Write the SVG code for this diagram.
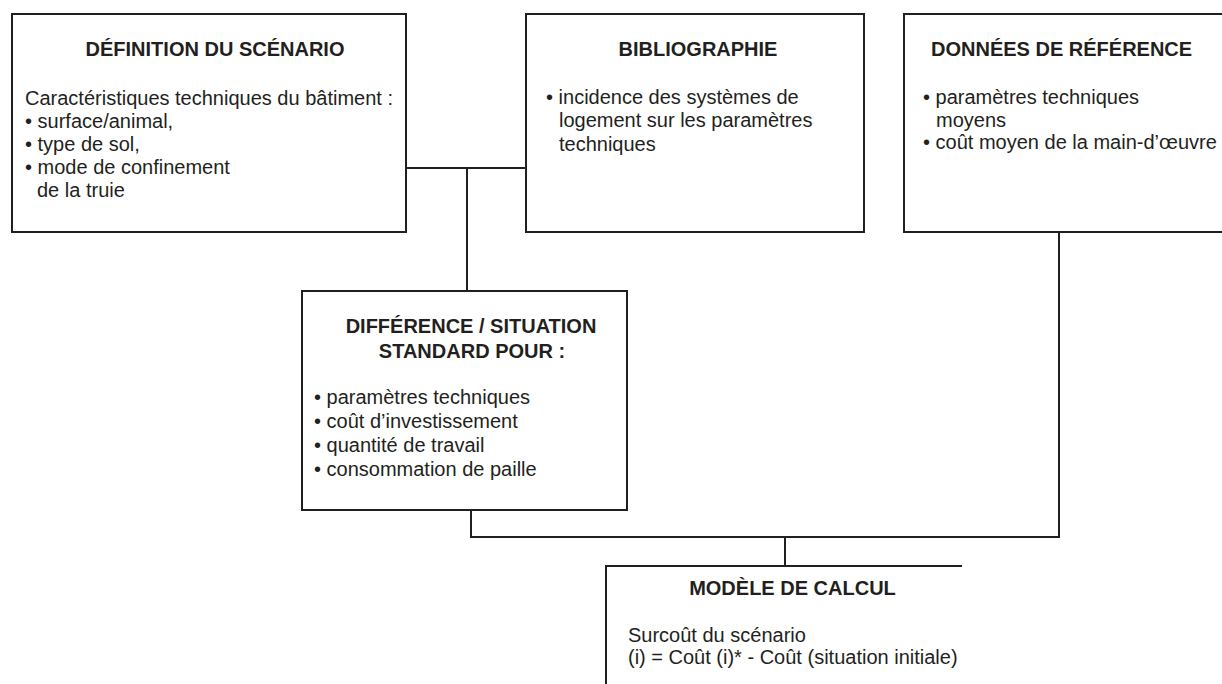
<svg xmlns="http://www.w3.org/2000/svg" width="1222" height="684" viewBox="0 0 1222 684">
<style>
.box{fill:#fff;stroke:#231f20;stroke-width:2}
.ln{fill:none;stroke:#231f20;stroke-width:2}
.t{font-family:"Liberation Sans",Arial,Helvetica,sans-serif;font-size:20px;fill:#231f20}
.b{font-weight:bold}
.m{text-anchor:middle}
</style>
<rect width="1222" height="684" fill="#fff"/>
<g id="connectors">
<path class="ln" d="M406,168 H526"/>
<path class="ln" d="M467,168 V291"/>
<path class="ln" d="M471,510 V537 H1059 V232"/>
<path class="ln" d="M785,537 V566"/>
</g>
<g id="scenario">
<rect class="box" x="12" y="14" width="394" height="218"/>
<text class="t b m" x="215" y="56">DÉFINITION DU SCÉNARIO</text>
<text class="t" x="25" y="105">Caractéristiques techniques du bâtiment :</text>
<text class="t" x="25" y="128">• surface/animal,</text>
<text class="t" x="25" y="151">• type de sol,</text>
<text class="t" x="25" y="174">• mode de confinement</text>
<text class="t" x="37" y="197">de la truie</text>
</g>
<g id="bibliographie">
<rect class="box" x="526" y="14" width="338" height="218"/>
<text class="t b m" x="698" y="56">BIBLIOGRAPHIE</text>
<text class="t" x="546" y="104">• incidence des systèmes de</text>
<text class="t" x="559" y="127">logement sur les paramètres</text>
<text class="t" x="559" y="151">techniques</text>
</g>
<g id="reference">
<rect class="box" x="904" y="14" width="330" height="218"/>
<text class="t b" x="931" y="56">DONNÉES DE RÉFÉRENCE</text>
<text class="t" x="923" y="104">• paramètres techniques</text>
<text class="t" x="936" y="127">moyens</text>
<text class="t" x="923" y="149">• coût moyen de la main-d’œuvre</text>
</g>
<g id="difference">
<rect class="box" x="302" y="291" width="325" height="219"/>
<text class="t b m" x="471" y="333">DIFFÉRENCE / SITUATION</text>
<text class="t b m" x="472" y="358">STANDARD POUR :</text>
<text class="t" x="314" y="404">• paramètres techniques</text>
<text class="t" x="314" y="428">• coût d’investissement</text>
<text class="t" x="314" y="452">• quantité de travail</text>
<text class="t" x="314" y="476">• consommation de paille</text>
</g>
<g id="modele">
<path class="ln" d="M606,690 V566 H962"/>
<text class="t b m" x="792.5" y="595">MODÈLE DE CALCUL</text>
<text class="t" x="628" y="642">Surcoût du scénario</text>
<text class="t" x="628" y="664">(i) = Coût (i)* - Coût (situation initiale)</text>
</g>
</svg>
